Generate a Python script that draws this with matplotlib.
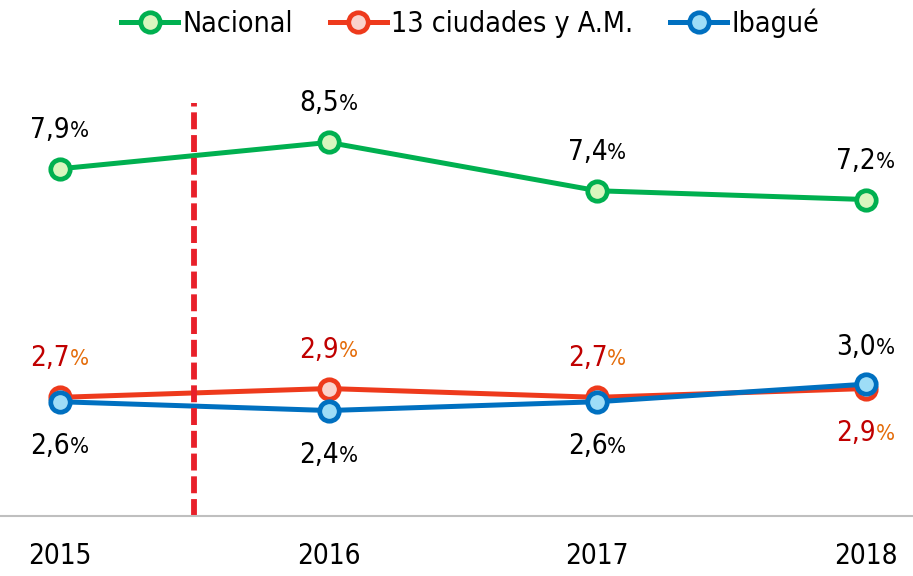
import matplotlib
matplotlib.use("Agg")
from matplotlib import pyplot as plt
from matplotlib.lines import Line2D

plt.rcParams["font.family"] = ["DejaVu Sans"]
plt.rcParams["font.stretch"] = "condensed"

years = [2015, 2016, 2017, 2018]
nacional = [7.9, 8.5, 7.4, 7.2]
ciudades = [2.7, 2.9, 2.7, 2.9]
ibague = [2.6, 2.4, 2.6, 3.0]
labels_nacional = ["7,9", "8,5", "7,4", "7,2"]
labels_ciudades = ["2,7", "2,9", "2,7", "2,9"]
labels_ibague = ["2,6", "2,4", "2,6", "3,0"]
cut_year = 2015.5

green, green_face = "#00B050", "#D8F6BE"
red, red_face = "#EE3A1C", "#FAD3CC"
blue, blue_face = "#0070C0", "#9EDDF7"

fig = plt.figure(figsize=(9.13, 5.76), dpi=100)
ax = fig.add_axes([0, 60 / 576, 1, 516 / 576])

style = dict(linewidth=3.6, marker="o", markersize=14, markeredgewidth=3.4)
ax.plot(years, nacional, color=green, markerfacecolor=green_face, **style)
ax.plot(years, ciudades, color=red, markerfacecolor=red_face, **style)
ax.plot(years, ibague, color=blue, markerfacecolor=blue_face, **style)

# vertical cut line
ax.plot([cut_year, cut_year], [0, 9.4], color="#E8202A", linewidth=4.2,
        linestyle=(0, (2.9, 1.0)))

ax.set_xlim(2015 - 60 / 268.67, 2018 + 47 / 268.67)
ax.set_ylim(0, 11.74)


# labels: number plus smaller percent sign
def label(x, y, txt, dy, num_color, pct_color):
    ax.annotate(txt, (x, y), xytext=(10, dy), textcoords="offset pixels",
                ha="right", va="center", fontsize=20, color=num_color)
    ax.annotate("%", (x, y), xytext=(10, dy - 1), textcoords="offset pixels",
                ha="left", va="center", fontsize=16, color=pct_color)


for i, yr in enumerate(years):
    label(yr, nacional[i], labels_nacional[i], 39, "black", "black")
    if yr == 2018:
        label(yr, ciudades[i], labels_ciudades[i], -44, "#C00000", "#E46C0A")
        label(yr, ibague[i], labels_ibague[i], 37, "black", "black")
    else:
        label(yr, ciudades[i], labels_ciudades[i], 39, "#C00000", "#E46C0A")
        label(yr, ibague[i], labels_ibague[i], -44, "black", "black")

for s in ["top", "right", "left"]:
    ax.spines[s].set_visible(False)
ax.spines["bottom"].set_color("#BFBFBF")
ax.spines["bottom"].set_linewidth(1.5)
ax.set_yticks([])
ax.set_xticks(years)
ax.set_xticklabels([str(y) for y in years], fontsize=20)
ax.tick_params(axis="x", length=0, pad=19)

handles = [
    Line2D([], [], color=green, markerfacecolor=green_face, **style),
    Line2D([], [], color=red, markerfacecolor=red_face, **style),
    Line2D([], [], color=blue, markerfacecolor=blue_face, **style),
]
fig.legend(handles, ["Nacional", "13 ciudades y A.M.", "Ibagué"], loc="upper center",
           bbox_to_anchor=(0.515, 1.03), ncol=3, frameon=False, fontsize=20.5,
           handlelength=2.0, handletextpad=0.15, columnspacing=1.3)

fig.savefig("out.png", dpi=100)
